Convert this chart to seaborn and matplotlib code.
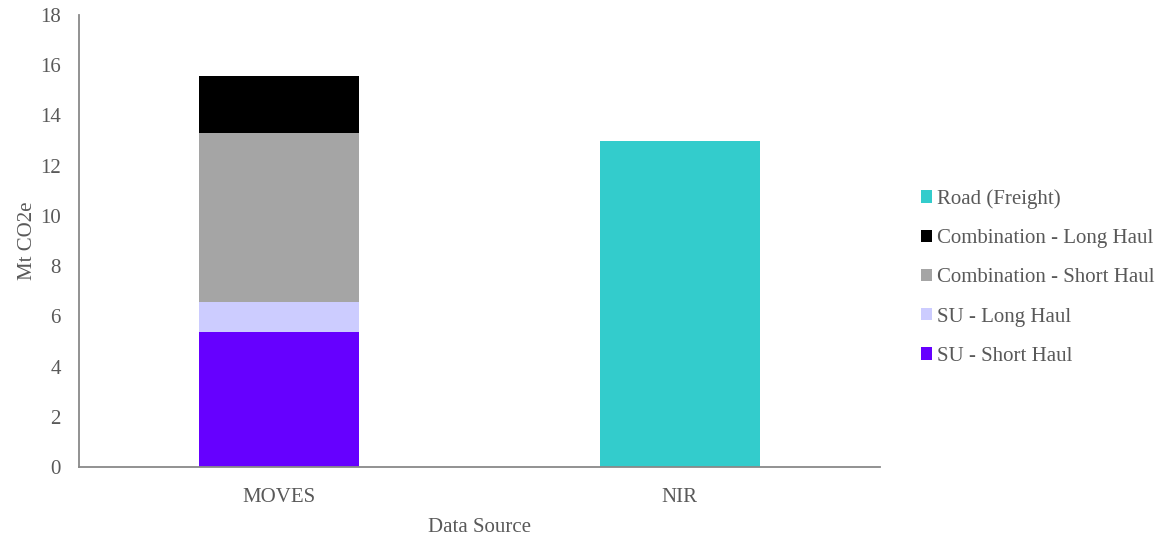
import matplotlib
matplotlib.use("Agg")
import matplotlib.pyplot as plt
from matplotlib.patches import Patch
import numpy as np
import pandas as pd
import seaborn as sns

# Emissions by data source (Mt CO2e)
sources = ["MOVES", "NIR"]
su_short = [5.39, 0.0]
su_long = [1.18, 0.0]
comb_short = [6.75, 0.0]
comb_long = [2.25, 0.0]
road_freight = [0.0, 12.98]

series_names = ["SU - Short Haul", "SU - Long Haul", "Combination - Short Haul",
                "Combination - Long Haul", "Road (Freight)"]
series_colors = ["#6600FF", "#CCCCFF", "#A5A5A5", "#000000", "#33CCCC"]

sns.set_theme(style="white")
plt.rcParams["font.family"] = ["Liberation Serif", "DejaVu Serif"]

text_color = "#595959"
axis_color = "#898989"

fig = plt.figure(figsize=(11.62, 5.38), dpi=100)
ax = fig.add_axes([79 / 1162, (538 - 467) / 538, 801 / 1162, 452 / 538])

# Stack the MOVES segments by drawing cumulative totals from tallest to shortest
stack = np.cumsum(np.array([su_short, su_long, comb_short, comb_long]), axis=0)
layers = [(stack[3], series_colors[3]), (stack[2], series_colors[2]),
          (stack[1], series_colors[1]), (stack[0], series_colors[0])]
for heights, color in layers:
    df = pd.DataFrame({"source": sources, "value": heights})
    sns.barplot(data=df, x="source", y="value", color=color, width=0.4,
                saturation=1, ax=ax, order=sources)

df_road = pd.DataFrame({"source": sources, "value": road_freight})
sns.barplot(data=df_road, x="source", y="value", color=series_colors[4],
            width=0.4, saturation=1, ax=ax, order=sources)

for p in ax.patches:
    p.set_edgecolor("none")
    p.set_linewidth(0)

ax.set_xlim(-0.5, 1.5)
ax.set_ylim(0, 18)
ax.set_yticks(np.arange(0, 19, 2))

for side in ["top", "right"]:
    ax.spines[side].set_visible(False)
for side in ["left", "bottom"]:
    ax.spines[side].set_color(axis_color)
    ax.spines[side].set_linewidth(1.3)

ax.tick_params(axis="both", length=0, labelsize=15, colors=text_color)
ax.tick_params(axis="y", pad=13)
ax.tick_params(axis="x", pad=15)

ax.set_xlabel("Data Source", fontsize=15, color=text_color, labelpad=8)
ax.set_ylabel("Mt CO2e", fontsize=15, color=text_color, labelpad=2)
ax.grid(False)

legend_order = [4, 3, 2, 1, 0]
handles = [Patch(facecolor=series_colors[i], edgecolor="none") for i in legend_order]
labels = [series_names[i] for i in legend_order]
leg = fig.legend(handles, labels, loc="center left",
                 bbox_to_anchor=(921 / 1162, 1 - 277.5 / 538),
                 frameon=False, fontsize=15, handlelength=0.55, handleheight=0.55,
                 handletextpad=0.2, labelspacing=0.97, borderpad=0, borderaxespad=0)
for t in leg.get_texts():
    t.set_color(text_color)

fig.savefig("out.png", dpi=100)
